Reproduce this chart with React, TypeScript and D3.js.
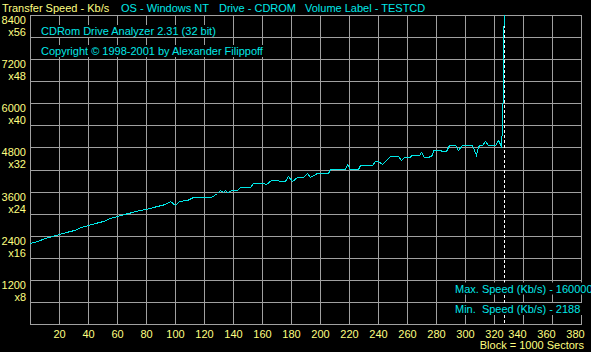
import React, { useEffect, useRef } from 'react';
import * as d3 from 'd3';

// transfer speed curve (block = 1000 sectors, speed in Kb/s)
const blocks = [
  0, 5, 10, 15, 20, 25, 30, 35, 40, 45, 50, 55, 60, 65, 70, 75, 80, 85, 90, 93,
  96.5, 100, 103, 108, 112.6, 125, 129, 131, 133, 134.8, 136, 139, 143, 145, 152, 154,
  161, 163, 166.5, 176, 178, 181, 184, 188.6, 191, 193, 197.7, 205.7, 207, 217,
  218.5, 220.5, 226, 227.6, 235.7, 238, 240, 242.5, 244.8, 248, 254, 255.7, 258, 262,
  263, 268, 269.5, 271.7, 274.7, 277, 278, 283, 284, 287, 289.2, 293, 295.4, 297.7,
  304.6, 307.4, 309, 310, 312, 313.8, 316, 320.7, 323, 324.6, 325.3, 326, 326.5, 327,
];
const speeds = [
  2200, 2260, 2330, 2380, 2440, 2500, 2560, 2630, 2690, 2750, 2810, 2880, 2936, 2990, 3040, 3090, 3134, 3190, 3230, 3262,
  3344, 3243, 3344, 3370, 3460, 3460, 3569, 3634, 3588, 3634, 3588, 3634, 3634, 3716, 3716, 3825,
  3840, 3810, 3910, 3896, 4023, 3896, 3988, 3988, 4096, 3988, 4096, 4096, 4205, 4205,
  4350, 4205, 4205, 4313, 4313, 4440, 4440, 4350, 4440, 4567, 4567, 4458, 4548, 4548,
  4594, 4594, 4684, 4548, 4548, 4594, 4730, 4730, 4703, 4703, 4866, 4866, 4730, 4866,
  4866, 4594, 4839, 4866, 4866, 4983, 4866, 4866, 5002, 4839, 5409, 6605, 7801, 1600000,
];

const speedTicks = [8400, 7200, 6000, 4800, 3600, 2400, 1200];
const blockTicks = [20, 40, 60, 80, 100, 120, 140, 160, 180, 200, 220, 240, 260, 280, 300, 320, 340, 360, 380];
const headerLabels = ['OS - Windows NT', 'Drive - CDROM', 'Volume Label - TESTCD'];
const headerX = [121, 219, 305];
const discEnd = 327;
const maxSpeed = 1600000;
const minSpeed = 2188;

const W = 591;
const H = 352;
const left = 30, top = 15, right = 581, bottom = 324;

const CYAN = '#00e8e8';
const YELLOW = '#ffff80';
const GRID = '#a0a0a0';
const FONT = "'Liberation Sans', Arial, sans-serif";

export default function App() {
  const svgRef = useRef<SVGSVGElement>(null);

  useEffect(() => {
    const svg = d3.select(svgRef.current);
    svg.selectAll('*').remove();

    const x = d3.scaleLinear().domain([0, 380]).range([left, right]);
    // speeds above the top of the scale (the 1600000 spike) are pinned to the top edge
    const y = d3.scaleLinear().domain([0, 8400]).range([bottom, top]).clamp(true);
    const px = (v: number) => Math.round(v) + 0.5;

    svg.append('rect').attr('width', W).attr('height', H).attr('fill', '#000');

    // grid
    const grid = svg.append('g').attr('stroke', GRID).attr('shape-rendering', 'crispEdges');
    grid.selectAll('line.h')
      .data(d3.range(0, 8401, 600))
      .enter().append('line')
      .attr('x1', left).attr('x2', right + 1)
      .attr('y1', d => px(y(d)))
      .attr('y2', d => px(y(d)));
    grid.selectAll('line.v')
      .data([0, ...blockTicks])
      .enter().append('line')
      .attr('x1', d => px(x(d)))
      .attr('x2', d => px(x(d)))
      .attr('y1', top).attr('y2', bottom + 1);

    // end of disc marker
    const ex = px(x(discEnd));
    svg.append('line')
      .attr('x1', ex).attr('x2', ex).attr('y1', top).attr('y2', bottom)
      .attr('stroke', '#fff').attr('stroke-dasharray', '3,2')
      .attr('shape-rendering', 'crispEdges');

    // curve snapped to pixel centres, like the original raster plot
    const pts = blocks.map((b, i) => [b, speeds[i]] as [number, number]);
    const line = d3.line<[number, number]>().x(d => px(x(d[0]))).y(d => px(y(d[1])));
    svg.append('path')
      .datum(pts)
      .attr('d', line)
      .attr('fill', 'none')
      .attr('stroke', CYAN)
      .attr('stroke-width', 1)
      .attr('shape-rendering', 'crispEdges');

    const txt = (g: any, tx: number, ty: number, s: string, color: string, anchor = 'start') =>
      g.append('text')
        .attr('x', tx).attr('y', ty)
        .attr('fill', color)
        .attr('font-family', FONT)
        .attr('font-size', 11)
        .attr('text-anchor', anchor)
        .style('white-space', 'pre')
        .text(s);

    // text drawn on a black box, hiding the grid under it
    const boxed = (tx: number, ty: number, s: string) => {
      const g = svg.append('g');
      const t = txt(g, tx, ty, s, CYAN);
      const bb = (t.node() as SVGTextElement).getBBox();
      g.insert('rect', 'text')
        .attr('x', bb.x - 4).attr('y', bb.y)
        .attr('width', bb.width + 8).attr('height', bb.height)
        .attr('fill', '#000');
    };

    boxed(41, 35, 'CDRom Drive Analyzer 2.31 (32 bit)');
    boxed(41, 55, 'Copyright \u00a9 1998-2001 by Alexander Filippoff');
    boxed(455, 292.5, `Max. Speed (Kb/s) - ${maxSpeed}`);
    boxed(455, 313, `Min.  Speed (Kb/s) - ${minSpeed}`);

    // header
    txt(svg, 2, 12, 'Transfer Speed - Kb/s', YELLOW);
    headerLabels.forEach((s, i) => txt(svg, headerX[i], 12, s, CYAN));

    // y axis labels
    speedTicks.forEach(v => {
      const gy = Math.round(y(v));
      txt(svg, 26, gy + 9, String(v), YELLOW, 'end');
      txt(svg, 26, gy + 21, 'x' + v / 150, YELLOW, 'end');
    });

    // x axis labels
    blockTicks.forEach(v => {
      txt(svg, px(x(v)) - (v > 330 ? 6 : 0), 337.5, String(v), YELLOW, 'middle');
    });

    txt(svg, 584, 349, 'Block = 1000 Sectors', YELLOW, 'end');
  }, []);

  return (
    <svg
      ref={svgRef}
      width={W}
      height={H}
      style={{ position: 'fixed', left: 0, top: 0, display: 'block', background: '#000' }}
    />
  );
}
